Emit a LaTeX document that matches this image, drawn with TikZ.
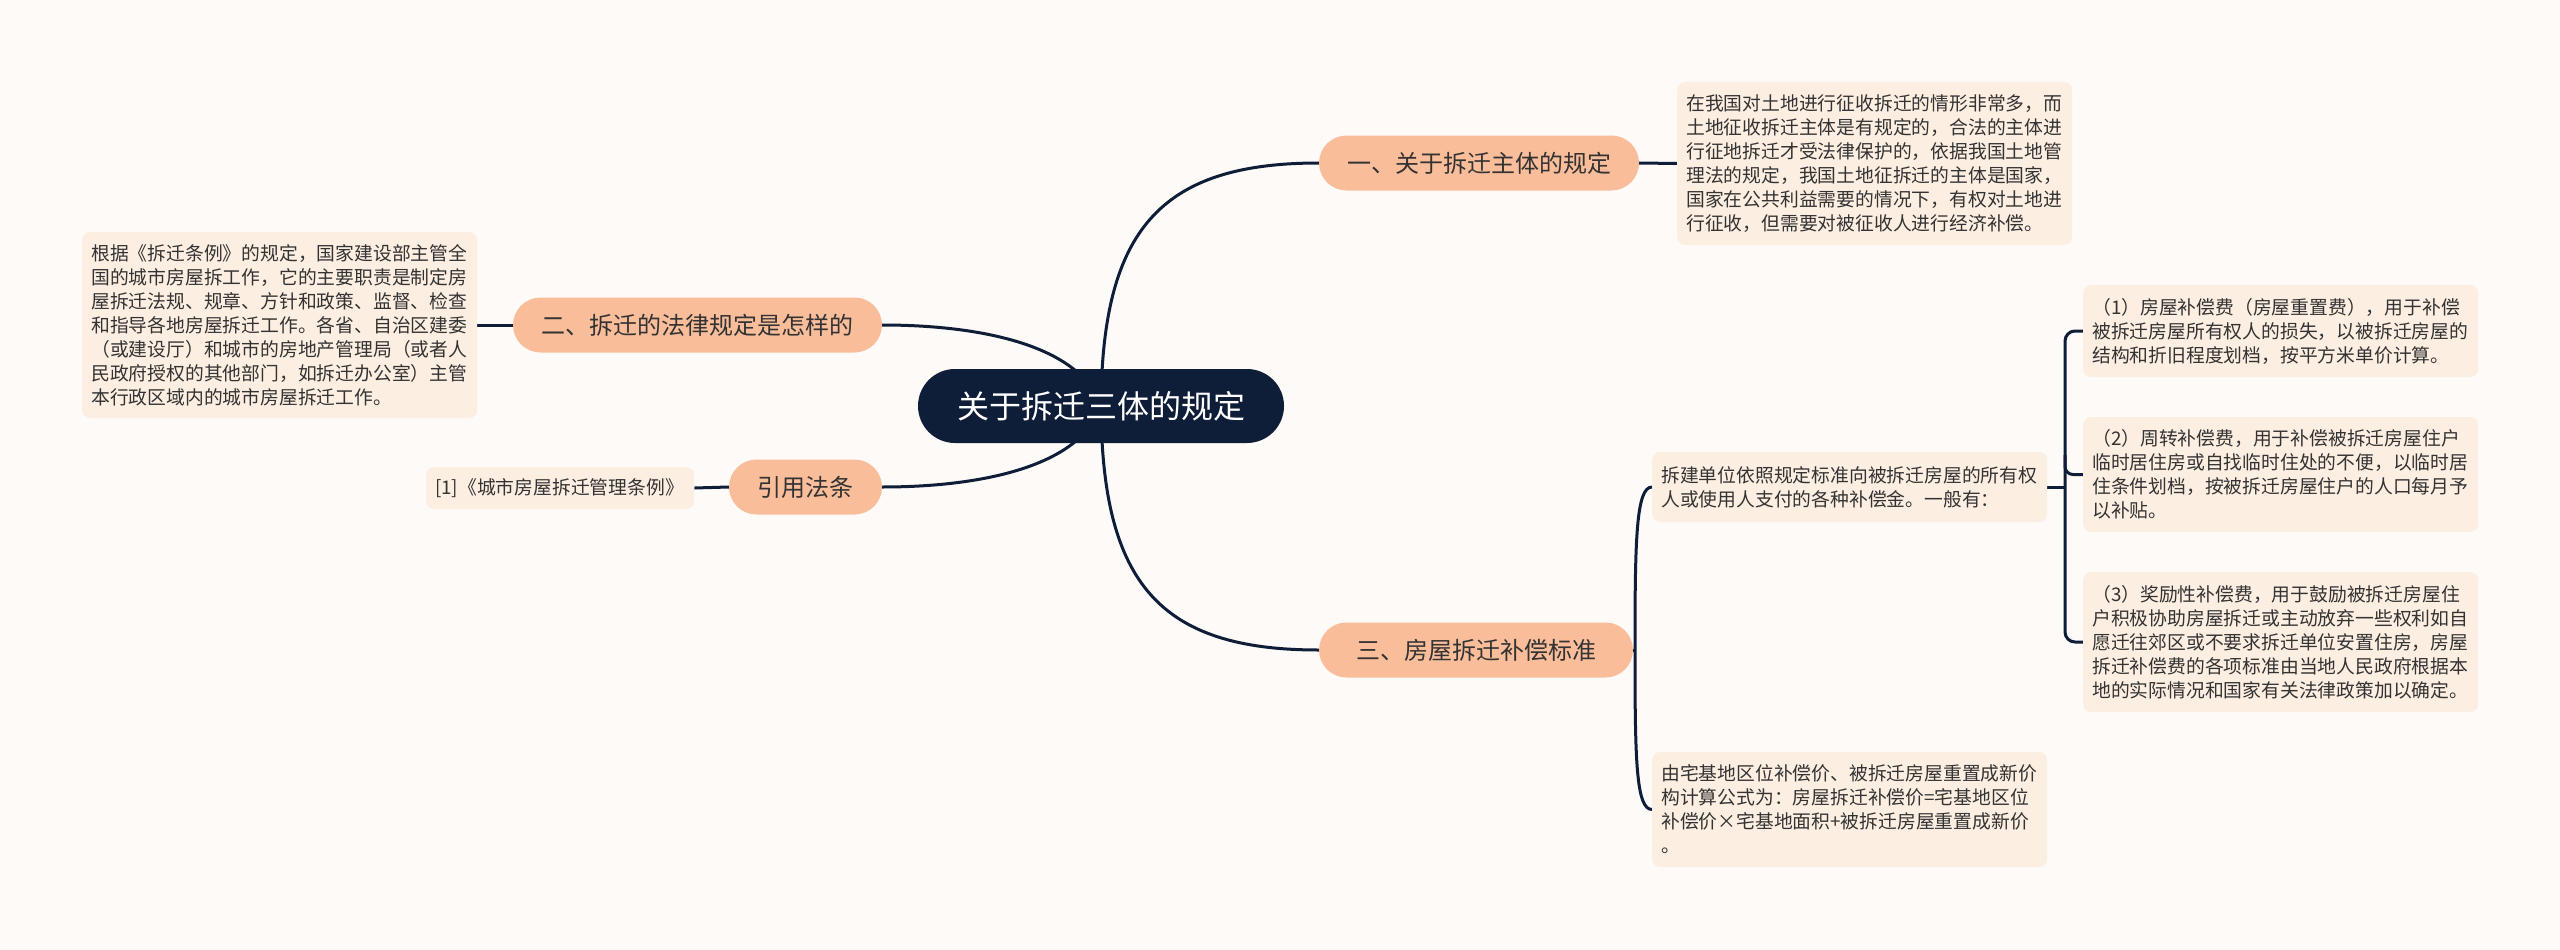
\documentclass[tikz,border=0pt]{standalone}
\usepackage{fontspec}
\setmainfont{Noto Sans CJK SC}
\definecolor{bgc}{HTML}{FDFAF8}
\definecolor{navy}{HTML}{0F1E38}
\definecolor{peach}{HTML}{FABD9A}
\definecolor{cream}{HTML}{FCEEE1}
\definecolor{txt}{HTML}{333333}
\pgfdeclarelayer{bgl}
\pgfdeclarelayer{edges}
\pgfsetlayers{bgl,edges,main}
\tikzset{
  link/.style={draw=navy, line width=3pt},
  rootbox/.style={fill=navy, rounded corners=37pt, minimum height=74pt, minimum width=366pt, inner sep=0pt, text=white, font=\fontsize{32}{36}\selectfont},
  topic/.style={fill=peach, rounded corners=27.5pt, minimum height=55pt, inner sep=0pt, text=txt, font=\fontsize{24}{28}\selectfont},
  note/.style={fill=cream, rounded corners=8pt, inner xsep=9pt, inner ysep=0pt, text width=377pt, align=left, text=txt, font=\fontsize{18.8}{24}\selectfont, anchor=west},
}
\begin{document}
\begin{tikzpicture}[x=1pt,y=-1pt]
\begin{pgfonlayer}{bgl}
\fill[bgc] (0,0) rectangle (2560,950);
\end{pgfonlayer}
\useasboundingbox (0,0) rectangle (2560,950);

\node[rootbox] (root) at (1101,406) {关于拆迁三体的规定};
\node[topic, minimum width=320pt] (t1) at (1479,163) {一、关于拆迁主体的规定};
\node[topic, minimum width=369pt] (t2) at (697.5,325) {二、拆迁的法律规定是怎样的};
\node[topic, minimum width=153pt] (t4) at (805.5,487) {引用法条};
\node[topic, minimum width=314pt] (t3) at (1476,650) {三、房屋拆迁补偿标准};

\node[note, minimum height=163pt] (n1) at (1677,163.5) {在我国对土地进行征收拆迁的情形非常多，而\\土地征收拆迁主体是有规定的，合法的主体进\\行征地拆迁才受法律保护的，依据我国土地管\\理法的规定，我国土地征拆迁的主体是国家，\\国家在公共利益需要的情况下，有权对土地进\\行征收，但需要对被征收人进行经济补偿。};
\node[note, minimum height=186pt] (n2) at (82,325) {根据《拆迁条例》的规定，国家建设部主管全\\国的城市房屋拆工作，它的主要职责是制定房\\屋拆迁法规、规章、方针和政策、监督、检查\\和指导各地房屋拆迁工作。各省、自治区建委\\（或建设厅）和城市的房地产管理局（或者人\\民政府授权的其他部门，如拆迁办公室）主管\\本行政区域内的城市房屋拆迁工作。};
\node[note, text width=250pt, minimum height=42pt] (n4) at (426,488) {[1]《城市房屋拆迁管理条例》};
\node[note, minimum height=70pt] (k) at (1652,487) {拆建单位依照规定标准向被拆迁房屋的所有权\\人或使用人支付的各种补偿金。一般有：};
\node[note, minimum height=115pt] (y) at (1652,809.5) {由宅基地区位补偿价、被拆迁房屋重置成新价\\构计算公式为：房屋拆迁补偿价=宅基地区位\\补偿价×宅基地面积+被拆迁房屋重置成新价\\。};
\node[note, minimum height=92pt] (c1) at (2083,331) {（1）房屋补偿费（房屋重置费），用于补偿\\被拆迁房屋所有权人的损失，以被拆迁房屋的\\结构和折旧程度划档，按平方米单价计算。};
\node[note, minimum height=115pt] (c2) at (2083,474.5) {（2）周转补偿费，用于补偿被拆迁房屋住户\\临时居住房或自找临时住处的不便，以临时居\\住条件划档，按被拆迁房屋住户的人口每月予\\以补贴。};
\node[note, minimum height=140pt] (c3) at (2083,642) {（3）奖励性补偿费，用于鼓励被拆迁房屋住\\户积极协助房屋拆迁或主动放弃一些权利如自\\愿迁往郊区或不要求拆迁单位安置住房，房屋\\拆迁补偿费的各项标准由当地人民政府根据本\\地的实际情况和国家有关法律政策加以确定。};

\coordinate (j3) at (1635,650);
\coordinate (j5) at (2065,487);

\begin{pgfonlayer}{edges}
\draw[link] (root.center) .. controls (1102,230) and (1160,163) .. (t1.west);
\draw[link] (root.center) .. controls (1102,584) and (1160,650) .. (t3.west);
\draw[link] (root.center) .. controls (1080,345) and (980,325) .. (t2.east);
\draw[link] (root.center) .. controls (1080,467) and (980,487) .. (t4.east);
\draw[link] (t1.east) -- (n1.west);
\draw[link] (t2.west) -- (n2.east);
\draw[link] (t4.west) -- (n4.east);
\draw[link] (t3.east) -- (j3);
\draw[link] (j3) .. controls (1635,540) and (1636,487) .. (k.west);
\draw[link] (j3) .. controls (1635,760) and (1636,809.5) .. (y.west);
\draw[link] (k.east) -- (j5);
\draw[link, rounded corners=10pt] (c1.west) -- (j5 |- c1.west) -- (j5 |- c3.west) -- (c3.west);
\draw[link, rounded corners=8pt] (2065,455) -- (j5 |- c2.west) -- (c2.west);
\end{pgfonlayer}
\end{tikzpicture}
\end{document}
